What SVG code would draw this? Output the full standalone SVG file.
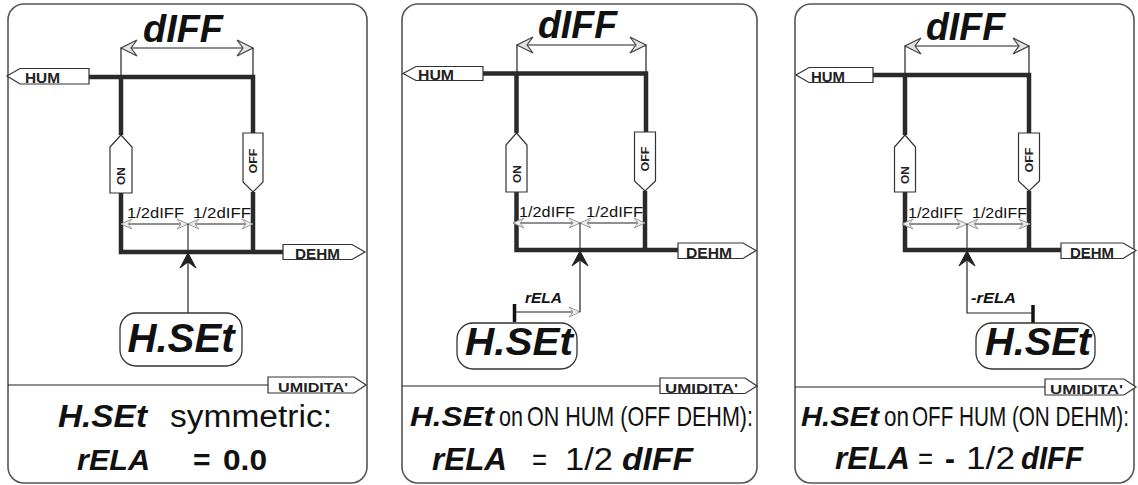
<svg xmlns="http://www.w3.org/2000/svg" width="1138" height="485" viewBox="0 0 1138 485">
<defs>
<style>
.panel{fill:#fff;stroke:#555;stroke-width:1.6}
.tag{fill:#fff;stroke:#333;stroke-width:1.2}
.tagt{font-family:"Liberation Sans",Arial,sans-serif;font-weight:bold;fill:#222}
.thick{fill:none;stroke:#2a2a2a;stroke-width:4.5;stroke-linejoin:miter}
.thin{fill:none;stroke:#222;stroke-width:1.2}
.half{fill:none;stroke:#222;stroke-width:1.1}
.tick{fill:none;stroke:#111;stroke-width:3.5}
.txt{font-family:"Liberation Sans",Arial,sans-serif;fill:#111}
.bi{font-weight:bold;font-style:italic}
.it{font-style:italic}
.b{font-weight:bold}
.hs{fill:#fff;stroke:#333;stroke-width:1.3}
</style>
<marker id="aBig" viewBox="-17 -9 18 18" markerWidth="18" markerHeight="18" refX="0" refY="0" orient="auto-start-reverse" markerUnits="userSpaceOnUse">
<path d="M0,0 L-16,-8 L-10,0 L-16,8 Z" fill="#e4e4e4" stroke="#444" stroke-width="1.2"/>
</marker>
<marker id="aSmall" viewBox="-12 -7 13 14" markerWidth="13" markerHeight="14" refX="0" refY="0" orient="auto-start-reverse" markerUnits="userSpaceOnUse">
<path d="M0,0 L-11,-5 L-7,0 L-11,5 Z" fill="#eee" stroke="#999" stroke-width="1"/>
</marker>
<marker id="aUp" viewBox="-17 -9 18 18" markerWidth="18" markerHeight="18" refX="0" refY="0" orient="auto" markerUnits="userSpaceOnUse">
<path d="M0,0 L-15,-8 L-9,0 L-15,8 Z" fill="#222" stroke="#222" stroke-width="1"/>
</marker>
</defs>
<rect width="1138" height="485" fill="#fff"/>

<!-- ============ PANEL 1 ============ -->
<g id="panel1">
<rect class="panel" x="8" y="4" width="359" height="479" rx="16"/>
<g id="p1-connectors">
<line class="thin" x1="121" y1="48" x2="253" y2="48" marker-start="url(#aBig)" marker-end="url(#aBig)"/>
<line class="thin" x1="121" y1="48" x2="121" y2="77"/>
<line class="thin" x1="253" y1="48" x2="253" y2="77"/>
<path class="thick" d="M89,77 H253 V133"/>
<path class="thick" d="M121,77 V135"/>
<path class="thick" d="M121,193 V252 H283"/>
<path class="thick" d="M253,192 V252"/>
<line class="half" x1="121" y1="224" x2="188" y2="224" marker-start="url(#aSmall)" marker-end="url(#aSmall)"/>
<line class="half" x1="188" y1="224" x2="253" y2="224" marker-start="url(#aSmall)" marker-end="url(#aSmall)"/>
<line class="half" x1="188" y1="224" x2="188" y2="252"/>
<line class="thin" x1="188" y1="313" x2="188" y2="253" marker-end="url(#aUp)"/>
<line class="thin" x1="8" y1="385" x2="268" y2="385"/>
</g>
<text class="txt bi" x="143" y="42" font-size="38" textLength="80" lengthAdjust="spacingAndGlyphs">dIFF</text>
<text class="txt" x="127" y="218" font-size="15" textLength="57" lengthAdjust="spacingAndGlyphs">1/2dIFF</text>
<text class="txt" x="193" y="218" font-size="15" textLength="58" lengthAdjust="spacingAndGlyphs">1/2dIFF</text>
<g id="p1-hum"><polygon class="tag" points="7,76 20,68.5 89,68.5 89,84 20,84"/><text class="tagt" x="25" y="83" font-size="14" textLength="35" lengthAdjust="spacingAndGlyphs">HUM</text></g>
<g id="p1-on"><polygon class="tag" points="121,135 132,147 132,193 110,193 110,147"/><text class="tagt" transform="translate(125,176) rotate(-90)" text-anchor="middle" font-size="10" textLength="18" lengthAdjust="spacingAndGlyphs">ON</text></g>
<g id="p1-off"><polygon class="tag" points="243,133 263,133 263,182 253,192 243,182"/><text class="tagt" transform="translate(257,161) rotate(-90)" text-anchor="middle" font-size="10" textLength="25" lengthAdjust="spacingAndGlyphs">OFF</text></g>
<g id="p1-dehm"><polygon class="tag" points="283,244.5 352,244.5 365,252 352,259.5 283,259.5"/><text class="tagt" x="295" y="259" font-size="15" textLength="45" lengthAdjust="spacingAndGlyphs">DEHM</text></g>
<g id="p1-umid"><polygon class="tag" points="268,377 354,377 366,385 354,393 268,393"/><text class="tagt" x="278" y="392" font-size="12" textLength="70" lengthAdjust="spacingAndGlyphs">UMIDITA'</text></g>
<g id="p1-hset"><rect class="hs" x="120" y="313" width="122" height="53" rx="16"/><text class="txt bi" x="181" y="352" text-anchor="middle" font-size="40" textLength="107" lengthAdjust="spacingAndGlyphs">H.SEt</text></g>
<text class="txt bi" x="58" y="427" font-size="31" textLength="89" lengthAdjust="spacingAndGlyphs">H.SEt</text>
<text class="txt" x="170" y="427" font-size="31" textLength="162" lengthAdjust="spacingAndGlyphs">symmetric:</text>
<text class="txt bi" x="77" y="470" font-size="30" textLength="73" lengthAdjust="spacingAndGlyphs">rELA</text>
<text class="txt b" x="193" y="470" font-size="30">=</text>
<text class="txt b" x="223" y="470" font-size="30" textLength="44" lengthAdjust="spacingAndGlyphs">0.0</text>
</g>

<!-- ============ PANEL 2 ============ -->
<g id="panel2">
<rect class="panel" x="402" y="4" width="355" height="479" rx="16"/>
<g id="p2-connectors">
<line class="thin" x1="517" y1="45" x2="646" y2="45" marker-start="url(#aBig)" marker-end="url(#aBig)"/>
<line class="thin" x1="517" y1="45" x2="517" y2="73.5"/>
<line class="thin" x1="646" y1="45" x2="646" y2="73.5"/>
<path class="thick" d="M483,73.5 H646 V132"/>
<path class="thick" d="M516.5,73.5 V133"/>
<path class="thick" d="M516.5,192 V250 H678"/>
<path class="thick" d="M645,191 V250"/>
<line class="half" x1="513" y1="223" x2="580" y2="223" marker-start="url(#aSmall)" marker-end="url(#aSmall)"/>
<line class="half" x1="580" y1="223" x2="645" y2="223" marker-start="url(#aSmall)" marker-end="url(#aSmall)"/>
<line class="half" x1="580" y1="223" x2="580" y2="250"/>
<line class="thin" x1="515" y1="312" x2="580" y2="312" marker-end="url(#aSmall)"/>
<line class="thin" x1="580" y1="312" x2="580" y2="251" marker-end="url(#aUp)"/>
<line class="tick" x1="514.5" y1="304" x2="514.5" y2="322"/>
<line class="thin" x1="402" y1="386" x2="660" y2="386"/>
</g>
<text class="txt bi" x="538" y="38" font-size="38" textLength="79" lengthAdjust="spacingAndGlyphs">dIFF</text>
<text class="txt" x="519" y="217" font-size="15" textLength="56" lengthAdjust="spacingAndGlyphs">1/2dIFF</text>
<text class="txt" x="586" y="217" font-size="15" textLength="57" lengthAdjust="spacingAndGlyphs">1/2dIFF</text>
<text class="txt bi" x="525" y="303" font-size="15" textLength="37" lengthAdjust="spacingAndGlyphs">rELA</text>
<g id="p2-hum"><polygon class="tag" points="403,73.5 416,66.5 483,66.5 483,80.5 416,80.5"/><text class="tagt" x="418" y="80" font-size="14" textLength="36" lengthAdjust="spacingAndGlyphs">HUM</text></g>
<g id="p2-on"><polygon class="tag" points="516.5,133 527,145 527,192 506,192 506,145"/><text class="tagt" transform="translate(520.5,174) rotate(-90)" text-anchor="middle" font-size="10" textLength="18" lengthAdjust="spacingAndGlyphs">ON</text></g>
<g id="p2-off"><polygon class="tag" points="634.5,132 655.5,132 655.5,181 645,191 634.5,181"/><text class="tagt" transform="translate(649,159) rotate(-90)" text-anchor="middle" font-size="10" textLength="25" lengthAdjust="spacingAndGlyphs">OFF</text></g>
<g id="p2-dehm"><polygon class="tag" points="678,243 743,243 756,250.5 743,258.5 678,258.5"/><text class="tagt" x="686" y="258" font-size="15" textLength="46" lengthAdjust="spacingAndGlyphs">DEHM</text></g>
<g id="p2-umid"><polygon class="tag" points="660,378 745,378 757,386 745,393.5 660,393.5"/><text class="tagt" x="665" y="393" font-size="12" textLength="73" lengthAdjust="spacingAndGlyphs">UMIDITA'</text></g>
<g id="p2-hset"><rect class="hs" x="457" y="323" width="120" height="46" rx="16"/><text class="txt bi" x="519" y="355" text-anchor="middle" font-size="38" textLength="108" lengthAdjust="spacingAndGlyphs">H.SEt</text></g>
<text class="txt bi" x="410" y="426" font-size="27" textLength="84" lengthAdjust="spacingAndGlyphs">H.SEt</text>
<text class="txt" x="499" y="426" font-size="27" textLength="24" lengthAdjust="spacingAndGlyphs">on</text>
<text class="txt" transform="translate(527,426) scale(1,1.26)" font-size="21.5" textLength="226" lengthAdjust="spacingAndGlyphs">ON HUM (OFF DEHM):</text>
<text class="txt bi" x="432" y="470" font-size="31" textLength="75" lengthAdjust="spacingAndGlyphs">rELA</text>
<text class="txt" x="532" y="470" font-size="31" textLength="15" lengthAdjust="spacingAndGlyphs">=</text>
<text class="txt" x="565" y="470" font-size="31" textLength="48" lengthAdjust="spacingAndGlyphs">1/2</text>
<text class="txt bi" x="622" y="470" font-size="31" textLength="71" lengthAdjust="spacingAndGlyphs">dIFF</text>
</g>

<!-- ============ PANEL 3 ============ -->
<g id="panel3">
<rect class="panel" x="795" y="4" width="339" height="479" rx="16"/>
<g id="p3-connectors">
<line class="thin" x1="905" y1="46" x2="1029" y2="46" marker-start="url(#aBig)" marker-end="url(#aBig)"/>
<line class="thin" x1="905" y1="46" x2="905" y2="75"/>
<line class="thin" x1="1029" y1="46" x2="1029" y2="75"/>
<path class="thick" d="M873,75 H1029 V133"/>
<path class="thick" d="M905,75 V135"/>
<path class="thick" d="M905,192 V250 H1061"/>
<path class="thick" d="M1029,191 V250"/>
<line class="half" x1="902" y1="224" x2="967" y2="224" marker-start="url(#aSmall)" marker-end="url(#aSmall)"/>
<line class="half" x1="967" y1="224" x2="1030" y2="224" marker-start="url(#aSmall)" marker-end="url(#aSmall)"/>
<line class="half" x1="967" y1="224" x2="967" y2="250"/>
<polyline class="thin" points="1033,313 967,313 967,251" marker-end="url(#aUp)"/>
<line class="tick" x1="1033" y1="305" x2="1033" y2="323"/>
<line class="thin" x1="795" y1="387" x2="1045" y2="387"/>
</g>
<text class="txt bi" x="926" y="40" font-size="38" textLength="79" lengthAdjust="spacingAndGlyphs">dIFF</text>
<text class="txt" x="908" y="218" font-size="15" textLength="55" lengthAdjust="spacingAndGlyphs">1/2dIFF</text>
<text class="txt" x="972" y="218" font-size="15" textLength="55" lengthAdjust="spacingAndGlyphs">1/2dIFF</text>
<text class="txt bi" x="971" y="303" font-size="15" textLength="45" lengthAdjust="spacingAndGlyphs">-rELA</text>
<g id="p3-hum"><polygon class="tag" points="796,75 809,67.5 873,67.5 873,82.5 809,82.5"/><text class="tagt" x="811" y="82" font-size="14" textLength="34" lengthAdjust="spacingAndGlyphs">HUM</text></g>
<g id="p3-on"><polygon class="tag" points="905,135 915.5,147 915.5,192 894.5,192 894.5,147"/><text class="tagt" transform="translate(909,175) rotate(-90)" text-anchor="middle" font-size="10" textLength="18" lengthAdjust="spacingAndGlyphs">ON</text></g>
<g id="p3-off"><polygon class="tag" points="1018.5,133 1039.5,133 1039.5,181 1029,191 1018.5,181"/><text class="tagt" transform="translate(1033,160) rotate(-90)" text-anchor="middle" font-size="10" textLength="25" lengthAdjust="spacingAndGlyphs">OFF</text></g>
<g id="p3-dehm"><polygon class="tag" points="1061,243 1123,243 1136,250.5 1123,258.5 1061,258.5"/><text class="tagt" x="1070" y="258" font-size="15" textLength="44" lengthAdjust="spacingAndGlyphs">DEHM</text></g>
<g id="p3-umid"><polygon class="tag" points="1045,379 1124,379 1136,387 1124,395 1045,395"/><text class="tagt" x="1050" y="394" font-size="12" textLength="73" lengthAdjust="spacingAndGlyphs">UMIDITA'</text></g>
<g id="p3-hset"><rect class="hs" x="976" y="323" width="119" height="46" rx="16"/><text class="txt bi" x="1038" y="355" text-anchor="middle" font-size="38" textLength="106" lengthAdjust="spacingAndGlyphs">H.SEt</text></g>
<text class="txt bi" x="801" y="426" font-size="27" textLength="78" lengthAdjust="spacingAndGlyphs">H.SEt</text>
<text class="txt" x="884" y="426" font-size="27" textLength="25" lengthAdjust="spacingAndGlyphs">on</text>
<text class="txt" transform="translate(912,426) scale(1,1.3)" font-size="20.6" textLength="217" lengthAdjust="spacingAndGlyphs">OFF HUM (ON DEHM):</text>
<text class="txt bi" x="835" y="469" font-size="31" textLength="75" lengthAdjust="spacingAndGlyphs">rELA</text>
<text class="txt" x="918" y="469" font-size="31" textLength="15" lengthAdjust="spacingAndGlyphs">=</text>
<text class="txt b" x="945" y="469" font-size="31" textLength="10" lengthAdjust="spacingAndGlyphs">-</text>
<text class="txt" x="966" y="469" font-size="31" textLength="49" lengthAdjust="spacingAndGlyphs">1/2</text>
<text class="txt bi" x="1021" y="469" font-size="31" textLength="62" lengthAdjust="spacingAndGlyphs">dIFF</text>
</g>
</svg>
